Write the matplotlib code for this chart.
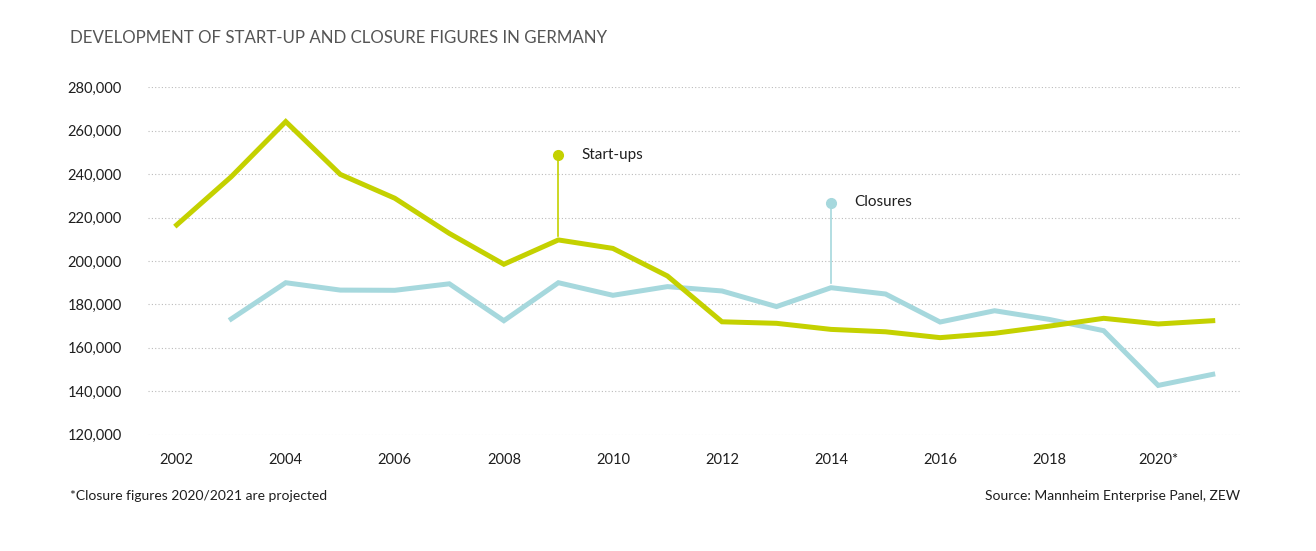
import matplotlib.pyplot as plt
from matplotlib.ticker import FuncFormatter

years = list(range(2002, 2022))
startups = [216600, 238800, 264200, 239900, 228900, 212700, 198500, 209700, 205800, 193100,
            172000, 171300, 168500, 167400, 164700, 166700, 170000, 173600, 171000, 172500]

closure_years = list(range(2003, 2022))
closures = [173300, 190000, 186600, 186500, 189500, 172500, 190000, 184200, 188200,
            186200, 179000, 187700, 184800, 171900, 177100, 173100, 167900, 142700, 147800]

x_ticks = [2002, 2004, 2006, 2008, 2010, 2012, 2014, 2016, 2018, 2020]
x_labels = ['2002', '2004', '2006', '2008', '2010', '2012', '2014', '2016', '2018', '2020*']
y_ticks = list(range(120000, 280001, 20000))

green = '#c4d100'
blue = '#a6d8dd'
text_color = '#1e1e1e'

plt.rcParams['font.family'] = ['Lato', 'DejaVu Sans']

fig = plt.figure(figsize=(13.16, 5.51), dpi=100)
ax = fig.add_axes([148 / 1316, 1 - 434.7 / 551, (1240 - 148) / 1316, (434.7 - 87.3) / 551])

ax.plot(years, startups, color=green, linewidth=3.6, solid_joinstyle='miter', clip_on=False, zorder=3)
ax.plot(closure_years, closures, color=blue, linewidth=3.6, solid_joinstyle='miter', clip_on=False, zorder=2)

# callout labels
ax.plot([2009, 2009], [211500, 248800], color=green, linewidth=1.2, zorder=4)
ax.plot(2009, 248800, 'o', color=green, markersize=7, zorder=4)
ax.text(2009.43, 248800, 'Start-ups', fontsize=11, color=text_color, va='center', ha='left')

ax.plot([2014, 2014], [190000, 226800], color=blue, linewidth=1.2, zorder=4)
ax.plot(2014, 226800, 'o', color=blue, markersize=7, zorder=4)
ax.text(2014.42, 227200, 'Closures', fontsize=11, color=text_color, va='center', ha='left')

ax.set_xlim(2001.474, 2021.5)
ax.set_ylim(120000, 280000)
ax.set_xticks(x_ticks)
ax.set_xticklabels(x_labels)
ax.set_yticks(y_ticks)
ax.yaxis.set_major_formatter(FuncFormatter(lambda v, p: f'{int(v):,}'))
ax.tick_params(axis='both', length=0, labelsize=10.5, colors=text_color)
ax.tick_params(axis='y', pad=19)
ax.tick_params(axis='x', pad=13)
ax.grid(axis='y', color='#bbbbbb', linestyle=(0, (1, 2)), linewidth=0.8)
ax.set_axisbelow(True)
for s in ax.spines.values():
    s.set_visible(False)

fig.text(70 / 1316, 1 - 38 / 551, 'DEVELOPMENT OF START-UP AND CLOSURE FIGURES IN GERMANY',
         fontsize=12.2, color='#555555', ha='left', va='center')
fig.text(70 / 1316, 1 - 496 / 551, '*Closure figures 2020/2021 are projected',
         fontsize=10, color=text_color, ha='left', va='center')
fig.text(1240 / 1316, 1 - 496 / 551, 'Source: Mannheim Enterprise Panel, ZEW',
         fontsize=10, color=text_color, ha='right', va='center')

fig.savefig('out.png', dpi=100)
